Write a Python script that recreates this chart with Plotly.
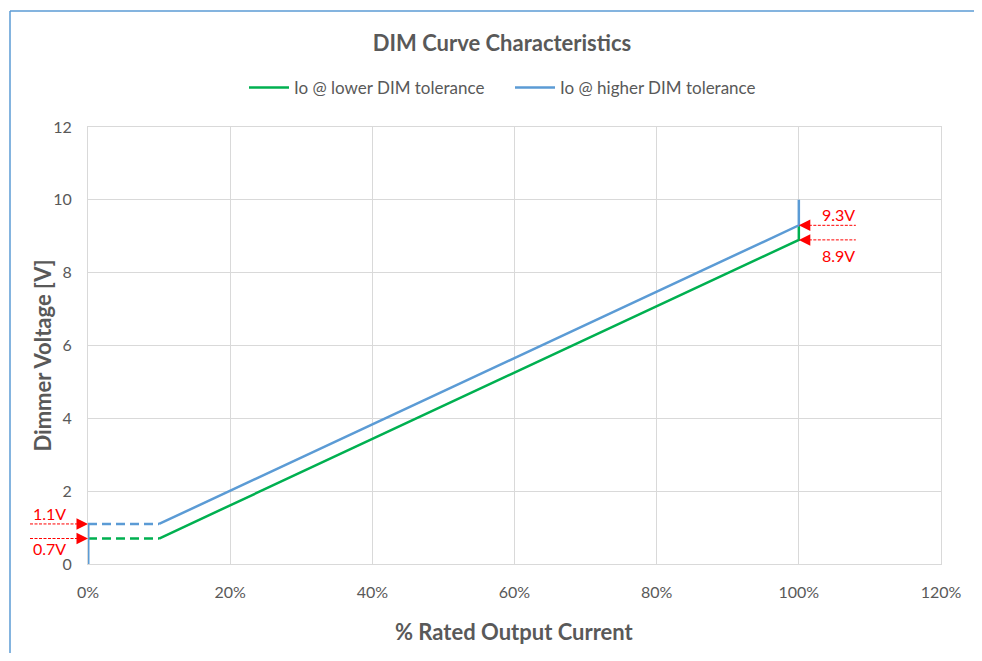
import plotly.graph_objects as go

# ---- data ----
x_dash = [0, 10]                 # % rated output current (dashed region)
lower_dash_y = [0.7, 0.7]
higher_dash_y = [1.1, 1.1]
lower_x = [10, 100, 100]
lower_y = [0.7, 8.9, 9.3]
higher_x = [10, 100, 100]
higher_y = [1.1, 9.3, 10.0]
higher_stub_x = [0, 0]
higher_stub_y = [0, 1.1]
x_ticks = [0, 20, 40, 60, 80, 100, 120]
y_ticks = [0, 2, 4, 6, 8, 10, 12]
labels_left = ["1.1V", "0.7V"]
labels_right = ["9.3V", "8.9V"]

GREEN = "#00B050"
BLUE = "#5B9BD5"
RED = "#FF0000"
GREY = "#595959"
FONT = "Lato, 'Open Sans', sans-serif"

# page body has an 8px margin; size the figure so the page does not overflow
OFF = 8
WIN_W, WIN_H = 982, 661
W, H = WIN_W - 2 * OFF, WIN_H - 2 * OFF
PL, PR, PT, PB = 88, 941, 127, 564     # plot-area edges in window pixels
ML, MR, MT, MB = PL - OFF, (OFF + W) - PR, PT - OFF, (OFF + H) - PB
PW, PH = PR - PL, PB - PT
PX_PER_X = PW / (x_ticks[-1] - x_ticks[0])

fig = go.Figure()

fig.add_trace(go.Scatter(x=x_dash, y=lower_dash_y, mode="lines",
                         line=dict(color=GREEN, width=2.5, dash="9px,5px"),
                         showlegend=False, hoverinfo="skip"))
fig.add_trace(go.Scatter(x=x_dash, y=higher_dash_y, mode="lines",
                         line=dict(color=BLUE, width=2.5, dash="9px,5px"),
                         showlegend=False, hoverinfo="skip"))
fig.add_trace(go.Scatter(x=lower_x, y=lower_y, mode="lines",
                         line=dict(color=GREEN, width=2.5),
                         name="Io @ lower DIM tolerance", cliponaxis=False))
fig.add_trace(go.Scatter(x=higher_x, y=higher_y, mode="lines",
                         line=dict(color=BLUE, width=2.5),
                         name="Io @ higher DIM tolerance", cliponaxis=False))
fig.add_trace(go.Scatter(x=higher_stub_x, y=higher_stub_y, mode="lines",
                         line=dict(color=BLUE, width=3),
                         showlegend=False, cliponaxis=False, hoverinfo="skip"))

shapes = []
annotations = []

# outer chart frame (top and left edges), window px x=10, y=11
fx = (10 - PL) / PW
fy = (PB - 11) / PH
fxr = (OFF + W + 2 - PL) / PW
fyb = (PB - (OFF + H + 2)) / PH
shapes.append(dict(type="line", xref="paper", yref="paper", x0=fx, x1=fx, y0=fy, y1=fyb,
                   line=dict(color=BLUE, width=1.5)))
shapes.append(dict(type="line", xref="paper", yref="paper", x0=fx, x1=fxr, y0=fy, y1=fy,
                   line=dict(color=BLUE, width=1.5)))

# left markers (at x = 0)
left_vals = [higher_dash_y[0], lower_dash_y[0]]
left_shift = [10, -10]
for v, lab, ys in zip(left_vals, labels_left, left_shift):
    shapes.append(dict(type="line", xref="paper", yref="y",
                       x0=(30 - PL) / PW, x1=-10 / PW, y0=v, y1=v,
                       line=dict(color=RED, width=1, dash="3px,1.5px")))
    annotations.append(dict(x=0, y=v, xref="x", yref="y", text="", showarrow=True,
                            arrowhead=2, arrowsize=2.3, arrowwidth=1, arrowcolor=RED,
                            ax=-12, ay=0, standoff=0))
    annotations.append(dict(x=0, y=v, xref="x", yref="y", text=lab, showarrow=False,
                            xshift=-39, yshift=ys,
                            font=dict(color=RED, size=16, family=FONT)))

# right markers (at x = 100)
right_vals = [higher_y[1], lower_y[1]]
right_shift = [11, -16]
xr = lower_x[1]
for v, lab, ys in zip(right_vals, labels_right, right_shift):
    shapes.append(dict(type="line", xref="x", yref="y",
                       x0=xr + 10 / PX_PER_X, x1=xr + 57 / PX_PER_X, y0=v, y1=v,
                       line=dict(color=RED, width=1, dash="3px,1.5px")))
    annotations.append(dict(x=xr, y=v, xref="x", yref="y", text="", showarrow=True,
                            arrowhead=2, arrowsize=2.3, arrowwidth=1, arrowcolor=RED,
                            ax=12, ay=0, standoff=0))
    annotations.append(dict(x=xr, y=v, xref="x", yref="y", text=lab, showarrow=False,
                            xshift=40, yshift=ys,
                            font=dict(color=RED, size=16, family=FONT)))

# axis titles
annotations.append(dict(x=0.5, y=0, xref="paper", yref="paper",
                        text="<b>% Rated Output Current</b>", showarrow=False,
                        yshift=-67, yanchor="middle", xanchor="center",
                        font=dict(size=22, color=GREY, family=FONT)))
annotations.append(dict(x=0, y=0.5, xref="paper", yref="paper",
                        text="<b>Dimmer Voltage [V]</b>", showarrow=False, textangle=-90,
                        xshift=-46, yshift=-10, yanchor="middle", xanchor="center",
                        font=dict(size=22, color=GREY, family=FONT)))

fig.update_layout(
    width=W, height=H,
    margin=dict(l=ML, r=MR, t=MT, b=MB),
    paper_bgcolor="white", plot_bgcolor="white",
    font=dict(family=FONT, color=GREY, size=16),
    title=dict(text="<b>DIM Curve Characteristics</b>", x=(502 - PL) / PW, xref="paper",
               xanchor="center", y=1 - (43 - OFF) / H, yanchor="middle",
               font=dict(size=22, color=GREY, family=FONT)),
    legend=dict(orientation="h", x=(510 - PL) / PW, xanchor="center",
                y=(PB - 88) / PH, yanchor="middle",
                font=dict(size=17, color=GREY, family=FONT),
                itemwidth=40, entrywidth=211, entrywidthmode="pixels",
                tracegroupgap=0, bgcolor="rgba(0,0,0,0)"),
    shapes=shapes,
    annotations=annotations,
    showlegend=True,
)

fig.update_xaxes(range=[x_ticks[0], x_ticks[-1]], tickvals=x_ticks,
                 ticktext=[f"{t}%" for t in x_ticks],
                 showgrid=True, gridcolor="#D9D9D9", gridwidth=1,
                 showline=True, linecolor="#D9D9D9", linewidth=1, mirror=True,
                 zeroline=False, ticks="", ticklabelstandoff=14,
                 tickfont=dict(size=16, color=GREY))
fig.update_yaxes(range=[y_ticks[0], y_ticks[-1]], tickvals=y_ticks,
                 showgrid=True, gridcolor="#D9D9D9", gridwidth=1,
                 showline=True, linecolor="#D9D9D9", linewidth=1, mirror=True,
                 zeroline=False, ticks="", ticklabelstandoff=12,
                 tickfont=dict(size=16, color=GREY))

fig.write_html("out.html")
